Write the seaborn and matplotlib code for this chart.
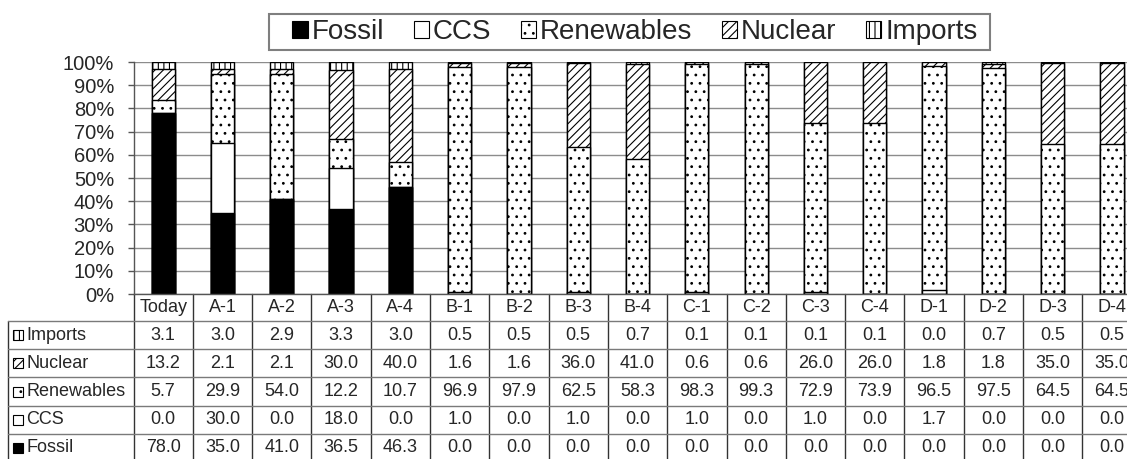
import numpy as np
import pandas as pd
import matplotlib
matplotlib.use("Agg")
import matplotlib.pyplot as plt
import seaborn as sns
from matplotlib.patches import Patch, Rectangle

# Electricity supply mix per scenario (% of generation)
scenarios = ["Today", "A-1", "A-2", "A-3", "A-4", "B-1", "B-2", "B-3", "B-4",
             "C-1", "C-2", "C-3", "C-4", "D-1", "D-2", "D-3", "D-4"]
fossil = [78.0, 35.0, 41.0, 36.5, 46.3, 0.0, 0.0, 0.0, 0.0,
          0.0, 0.0, 0.0, 0.0, 0.0, 0.0, 0.0, 0.0]
ccs = [0.0, 30.0, 0.0, 18.0, 0.0, 1.0, 0.0, 1.0, 0.0,
       1.0, 0.0, 1.0, 0.0, 1.7, 0.0, 0.0, 0.0]
renewables = [5.7, 29.9, 54.0, 12.2, 10.7, 96.9, 97.9, 62.5, 58.3,
              98.3, 99.3, 72.9, 73.9, 96.5, 97.5, 64.5, 64.5]
nuclear = [13.2, 2.1, 2.1, 30.0, 40.0, 1.6, 1.6, 36.0, 41.0,
           0.6, 0.6, 26.0, 26.0, 1.8, 1.8, 35.0, 35.0]
imports = [3.1, 3.0, 2.9, 3.3, 3.0, 0.5, 0.5, 0.5, 0.7,
           0.1, 0.1, 0.1, 0.1, 0.0, 0.7, 0.5, 0.5]

# stacking order bottom -> top, with fill and hatch for each source
sources = ["Fossil", "CCS", "Renewables", "Nuclear", "Imports"]
fills = {"Fossil": "black", "CCS": "white", "Renewables": "white",
         "Nuclear": "white", "Imports": "white"}
hatches = {"Fossil": "", "CCS": "", "Renewables": "..",
           "Nuclear": "////", "Imports": "|||"}

df = pd.DataFrame({"scenario": scenarios, "Fossil": fossil, "CCS": ccs,
                   "Renewables": renewables, "Nuclear": nuclear,
                   "Imports": imports})
total = df[sources].sum(axis=1)
cum = df[sources].cumsum(axis=1).div(total, axis=0) * 100
cum["scenario"] = df["scenario"]

sns.set_style("white")
plt.rcParams["font.family"] = ["Liberation Sans", "DejaVu Sans"]
plt.rcParams["hatch.linewidth"] = 0.8

W, H = 1127, 459
fig = plt.figure(figsize=(W / 100, H / 100), dpi=100)
ax_left, ax_right = 133.5, 1141.6
ax_top, ax_bot = 62.0, 294.0
ax = fig.add_axes([ax_left / W, (H - ax_bot) / H,
                   (ax_right - ax_left) / W, (ax_bot - ax_top) / H])

# 100% stacked bars: draw cumulative totals from the top layer downwards
for name in reversed(sources):
    sns.barplot(data=cum, x="scenario", y=name, order=scenarios,
                color=fills[name], saturation=1, hatch=hatches[name],
                edgecolor="black", linewidth=1, width=0.39,
                errorbar=None, ax=ax)

ax.set_xlim(-0.5, len(scenarios) - 0.5)
ax.set_ylim(0, 100)
ax.set_xlabel("")
ax.set_ylabel("")
ax.set_xticks([])
ax.set_yticks(np.arange(0, 101, 10))
ax.set_yticklabels([f"{v}%" for v in range(0, 101, 10)])
ax.tick_params(axis="y", length=4, width=1, color="#555555",
               labelsize=14.5, pad=10, left=True)
ax.yaxis.grid(True, color="#8c8c8c", linewidth=1)
ax.set_axisbelow(True)
for side in ("top", "right"):
    ax.spines[side].set_visible(False)
for side in ("left", "bottom"):
    ax.spines[side].set_color("#555555")
    ax.spines[side].set_linewidth(1)

# ---- data table below the bars ----
trans = ax.get_xaxis_transform()
cat_px = (ax_right - ax_left) / len(scenarios)


def ay(py):
    return (ax_bot - py) / (ax_bot - ax_top)


def dx(px):
    return -0.5 + (px - ax_left) / cat_px


header_top, header_bot = 294, 321
row_edges = [321, 349, 377, 406, 434, 462]
table_left = 8
right_end = len(scenarios) - 0.5 + 1

for i in range(len(scenarios) + 1):
    ax.plot([i - 0.5, i - 0.5], [ay(header_top), ay(row_edges[-1])],
            color="#333333", lw=1, transform=trans, clip_on=False)
ax.plot([dx(table_left)] * 2, [ay(row_edges[0]), ay(row_edges[-1])],
        color="#333333", lw=1, transform=trans, clip_on=False)
for py in row_edges[:-1]:
    ax.plot([dx(table_left), right_end], [ay(py), ay(py)],
            color="#7a7a7a", lw=1, transform=trans, clip_on=False)

for i, s in enumerate(scenarios):
    ax.text(i, ay((header_top + header_bot) / 2), s, transform=trans,
            ha="center", va="center", fontsize=13, clip_on=False)

table_rows = ["Imports", "Nuclear", "Renewables", "CCS", "Fossil"]
for r, name in enumerate(table_rows):
    cy = (row_edges[r] + row_edges[r + 1]) / 2
    icon = Rectangle((dx(13), ay(cy + 5)), dx(23) - dx(13),
                     ay(cy - 5) - ay(cy + 5), transform=trans,
                     facecolor=fills[name], hatch=hatches[name],
                     edgecolor="black", lw=0.8, clip_on=False)
    ax.add_patch(icon)
    ax.text(dx(26), ay(cy), name, transform=trans, ha="left", va="center",
            fontsize=13, clip_on=False)
    for i, v in enumerate(df[name]):
        ax.text(i, ay(cy), f"{v:.1f}", transform=trans, ha="center",
                va="center", fontsize=13, clip_on=False)

# ---- legend with its own box ----
box_l, box_r, box_t, box_b = 269, 990, 14, 50
fig.patches.append(Rectangle((box_l / W, (H - box_b) / H),
                             (box_r - box_l) / W, (box_b - box_t) / H,
                             transform=fig.transFigure, facecolor="white",
                             edgecolor="#7f7f7f", lw=1.5))
handles = [Patch(facecolor=fills[n], edgecolor="black", hatch=hatches[n],
                 lw=0.8, label=n) for n in sources]
leg = fig.legend(handles=handles, loc="center",
                 bbox_to_anchor=(635 / W, (H - 32) / H), ncol=5,
                 fontsize=20, frameon=False, handlelength=0.55,
                 handleheight=0.55, handletextpad=0.15, columnspacing=1.05,
                 borderpad=0.1)

fig.savefig("out.png", dpi=100)
